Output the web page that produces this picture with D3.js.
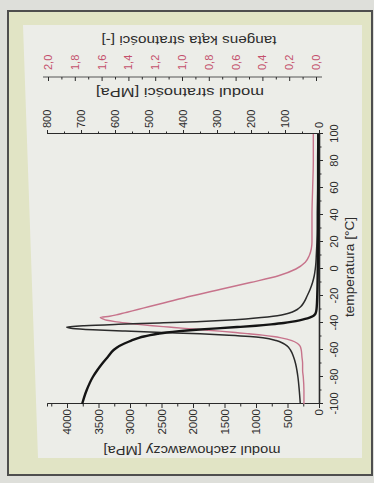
<!DOCTYPE html>
<html>
<head>
<meta charset="utf-8">
<script src="https://cdn.jsdelivr.net/npm/d3@7"></script>
<style>
  html, body { margin: 0; padding: 0; background: #dedfda; }
  svg { display: block; }
  text { font-family: "Liberation Sans", Arial, sans-serif; fill: #2c2c2c; }
  .axis path, .axis line { stroke: #2a2a2a; }
</style>
</head>
<body>
<div id="chart"></div>
<script>
// temperature grid [°C]
const temps = [-100, -90, -80, -75, -70, -65, -60, -57, -55, -53, -51, -50, -49, -48, -47, -46,
  -45, -44, -43, -42, -41, -40, -39, -38, -37, -36, -35, -34, -33, -32, -30, -28, -25, -20,
  -15, -10, -5, 0, 5, 10, 15, 20, 30, 40, 60, 80, 100];
// modul zachowawczy [MPa]
const storage = [3760, 3690, 3590, 3520, 3440, 3350, 3260, 3170, 3080, 2980, 2860, 2780, 2680,
  2560, 2420, 2220, 1950, 1620, 1300, 1000, 760, 560, 420, 310, 220, 150, 100, 72, 56, 48, 40,
  36, 32, 28, 25, 23, 21, 20, 19, 18, 17, 16, 15, 14, 13, 12, 11];
// modul stratności [MPa]
const loss = [55, 58, 62, 65, 69, 75, 84, 94, 106, 126, 165, 203, 265, 350, 460, 570, 665, 725,
  742, 690, 590, 470, 360, 275, 215, 170, 135, 110, 92, 80, 64, 54, 45, 35, 26, 19, 14, 11, 9,
  8, 7, 6, 5, 5, 4, 4, 3];
// tangens kąta stratności [-]
const tanDelta = [0.09, 0.09, 0.095, 0.1, 0.1, 0.105, 0.11, 0.12, 0.14, 0.18, 0.26, 0.32, 0.4,
  0.5, 0.6, 0.72, 0.85, 0.98, 1.1, 1.22, 1.33, 1.42, 1.5, 1.56, 1.59, 1.61, 1.54, 1.49, 1.45,
  1.41, 1.33, 1.25, 1.13, 0.93, 0.71, 0.49, 0.28, 0.15, 0.08, 0.05, 0.035, 0.03, 0.03, 0.03,
  0.025, 0.02, 0.02];

// tick labels
const tempTicks = [-100, -80, -60, -40, -20, 0, 20, 40, 60, 80, 100];
const storageTicks = [0, 500, 1000, 1500, 2000, 2500, 3000, 3500, 4000];
const lossTicks = [0, 100, 200, 300, 400, 500, 600, 700, 800];
const tanTicks = [0, 0.2, 0.4, 0.6, 0.8, 1.0, 1.2, 1.4, 1.6, 1.8, 2.0];

const width = 374, height = 483;
const svg = d3.select('#chart').append('svg')
  .attr('width', width)
  .attr('height', height);

// photo frame
svg.append('rect')
  .attr('x', 8).attr('y', 11).attr('width', 364).attr('height', 464)
  .attr('fill', '#e1e4c5')
  .attr('stroke', '#4e4e4e').attr('stroke-width', 2);
svg.append('polygon')
  .attr('points', '23,25 362,25 362,458 38,458')
  .attr('fill', '#ecede8');

// the chart is printed turned 90° to the left
const plotLeft = 47, plotBottom = 404;
const W = 270;  // temperature direction
const H = 272;  // value direction

const g = svg.append('g')
  .attr('transform', `translate(${plotLeft},${plotBottom}) rotate(-90)`);

const x = d3.scaleLinear().domain([-100, 100]).range([0, W]);
const yS = d3.scaleLinear().domain([0, 4000 * H / 252]).range([H, 0]);
const yL = d3.scaleLinear().domain([0, 800]).range([H, 0]);
const yT = d3.scaleLinear().domain([0, 2]).range([H - 3, H - 271]);

const fmtInt = d => String(d);
const fmtComma = d => d3.format('.1f')(d).replace('.', ',');

// storage axis (left in original)
g.append('g').attr('class', 'axis')
  .call(d3.axisLeft(yS).tickValues(d3.range(250, 4300, 500)).tickSize(2.5).tickFormat(''));
const axS = g.append('g').attr('class', 'axis')
  .call(d3.axisLeft(yS).tickValues(storageTicks).tickSize(4).tickSizeOuter(0)
    .tickPadding(1).tickFormat(fmtInt));
axS.selectAll('text').style('font-size', '11.5px');

// temperature axis (bottom in original)
g.append('g').attr('class', 'axis').attr('transform', `translate(0,${H})`)
  .call(d3.axisBottom(x).tickValues(d3.range(-90, 100, 20)).tickSize(2.5).tickFormat(''));
const axT = g.append('g').attr('class', 'axis').attr('transform', `translate(0,${H})`)
  .call(d3.axisBottom(x).tickValues(tempTicks).tickSize(4).tickSizeOuter(0)
    .tickPadding(7).tickFormat(fmtInt));
axT.selectAll('text').style('font-size', '11px');
axT.select('.domain').attr('stroke-width', 1.6);

// loss axis (right in original)
g.append('g').attr('class', 'axis').attr('transform', `translate(${W},0)`)
  .call(d3.axisRight(yL).tickValues(d3.range(50, 800, 100)).tickSize(2.5).tickFormat(''));
const axL = g.append('g').attr('class', 'axis').attr('transform', `translate(${W},0)`)
  .call(d3.axisRight(yL).tickValues(lossTicks).tickSize(4).tickSizeOuter(0)
    .tickPadding(2).tickFormat(fmtInt));
axL.selectAll('text').style('font-size', '11px');

// tan delta axis, further out
const tanOff = W + 57;
g.append('line')
  .attr('x1', tanOff).attr('x2', tanOff)
  .attr('y1', -4).attr('y2', H + 3)
  .attr('stroke', '#555');
g.append('g').attr('class', 'axis').attr('transform', `translate(${tanOff},0)`)
  .call(d3.axisRight(yT).tickValues(d3.range(0.1, 2, 0.2)).tickSize(-2.5).tickFormat(''))
  .call(a => a.select('.domain').remove());
const axTan = g.append('g').attr('class', 'axis').attr('transform', `translate(${tanOff},0)`)
  .call(d3.axisRight(yT).tickValues(tanTicks).tickSize(-4).tickPadding(7).tickFormat(fmtComma))
  .call(a => a.select('.domain').remove());
axTan.selectAll('line').attr('stroke', '#555');
axTan.selectAll('text').style('font-size', '11px').style('fill', '#c4506c');

// curves
const rows = temps.map((t, i) => ({ t, s: storage[i], l: loss[i], d: tanDelta[i] }));
const lineOf = (scale, key) => d3.line()
  .x(d => x(d.t))
  .y(d => scale(d[key]))
  .curve(d3.curveMonotoneX);

g.append('path').datum(rows)
  .attr('d', lineOf(yT, 'd'))
  .attr('fill', 'none').attr('stroke', '#c7738b').attr('stroke-width', 1.4);
g.append('path').datum(rows)
  .attr('d', lineOf(yL, 'l'))
  .attr('fill', 'none').attr('stroke', '#2b2b2b').attr('stroke-width', 1.5);
g.append('path').datum(rows)
  .attr('d', lineOf(yS, 's'))
  .attr('fill', 'none').attr('stroke', '#141414').attr('stroke-width', 2.4);

// axis titles (screen coordinates)
svg.append('text')
  .attr('transform', 'translate(192,450) rotate(180)')
  .attr('text-anchor', 'middle').attr('dominant-baseline', 'central')
  .attr('textLength', 177).attr('lengthAdjust', 'spacingAndGlyphs')
  .style('font-size', '13.5px')
  .text('modul zachowawczy [MPa]');
svg.append('text')
  .attr('transform', 'translate(349,267) rotate(-90)')
  .attr('text-anchor', 'middle').attr('dominant-baseline', 'central')
  .attr('textLength', 100).attr('lengthAdjust', 'spacingAndGlyphs')
  .style('font-size', '13px')
  .text('temperatura [°C]');
svg.append('text')
  .attr('transform', 'translate(180,92) rotate(180)')
  .attr('text-anchor', 'middle').attr('dominant-baseline', 'central')
  .attr('textLength', 168).attr('lengthAdjust', 'spacingAndGlyphs')
  .style('font-size', '13.5px')
  .text('modul stratności [MPa]');
svg.append('text')
  .attr('transform', 'translate(189,40) rotate(180)')
  .attr('text-anchor', 'middle').attr('dominant-baseline', 'central')
  .attr('textLength', 175).attr('lengthAdjust', 'spacingAndGlyphs')
  .style('font-size', '13px')
  .text('tangens kąta stratności [-]');
</script>
</body>
</html>
